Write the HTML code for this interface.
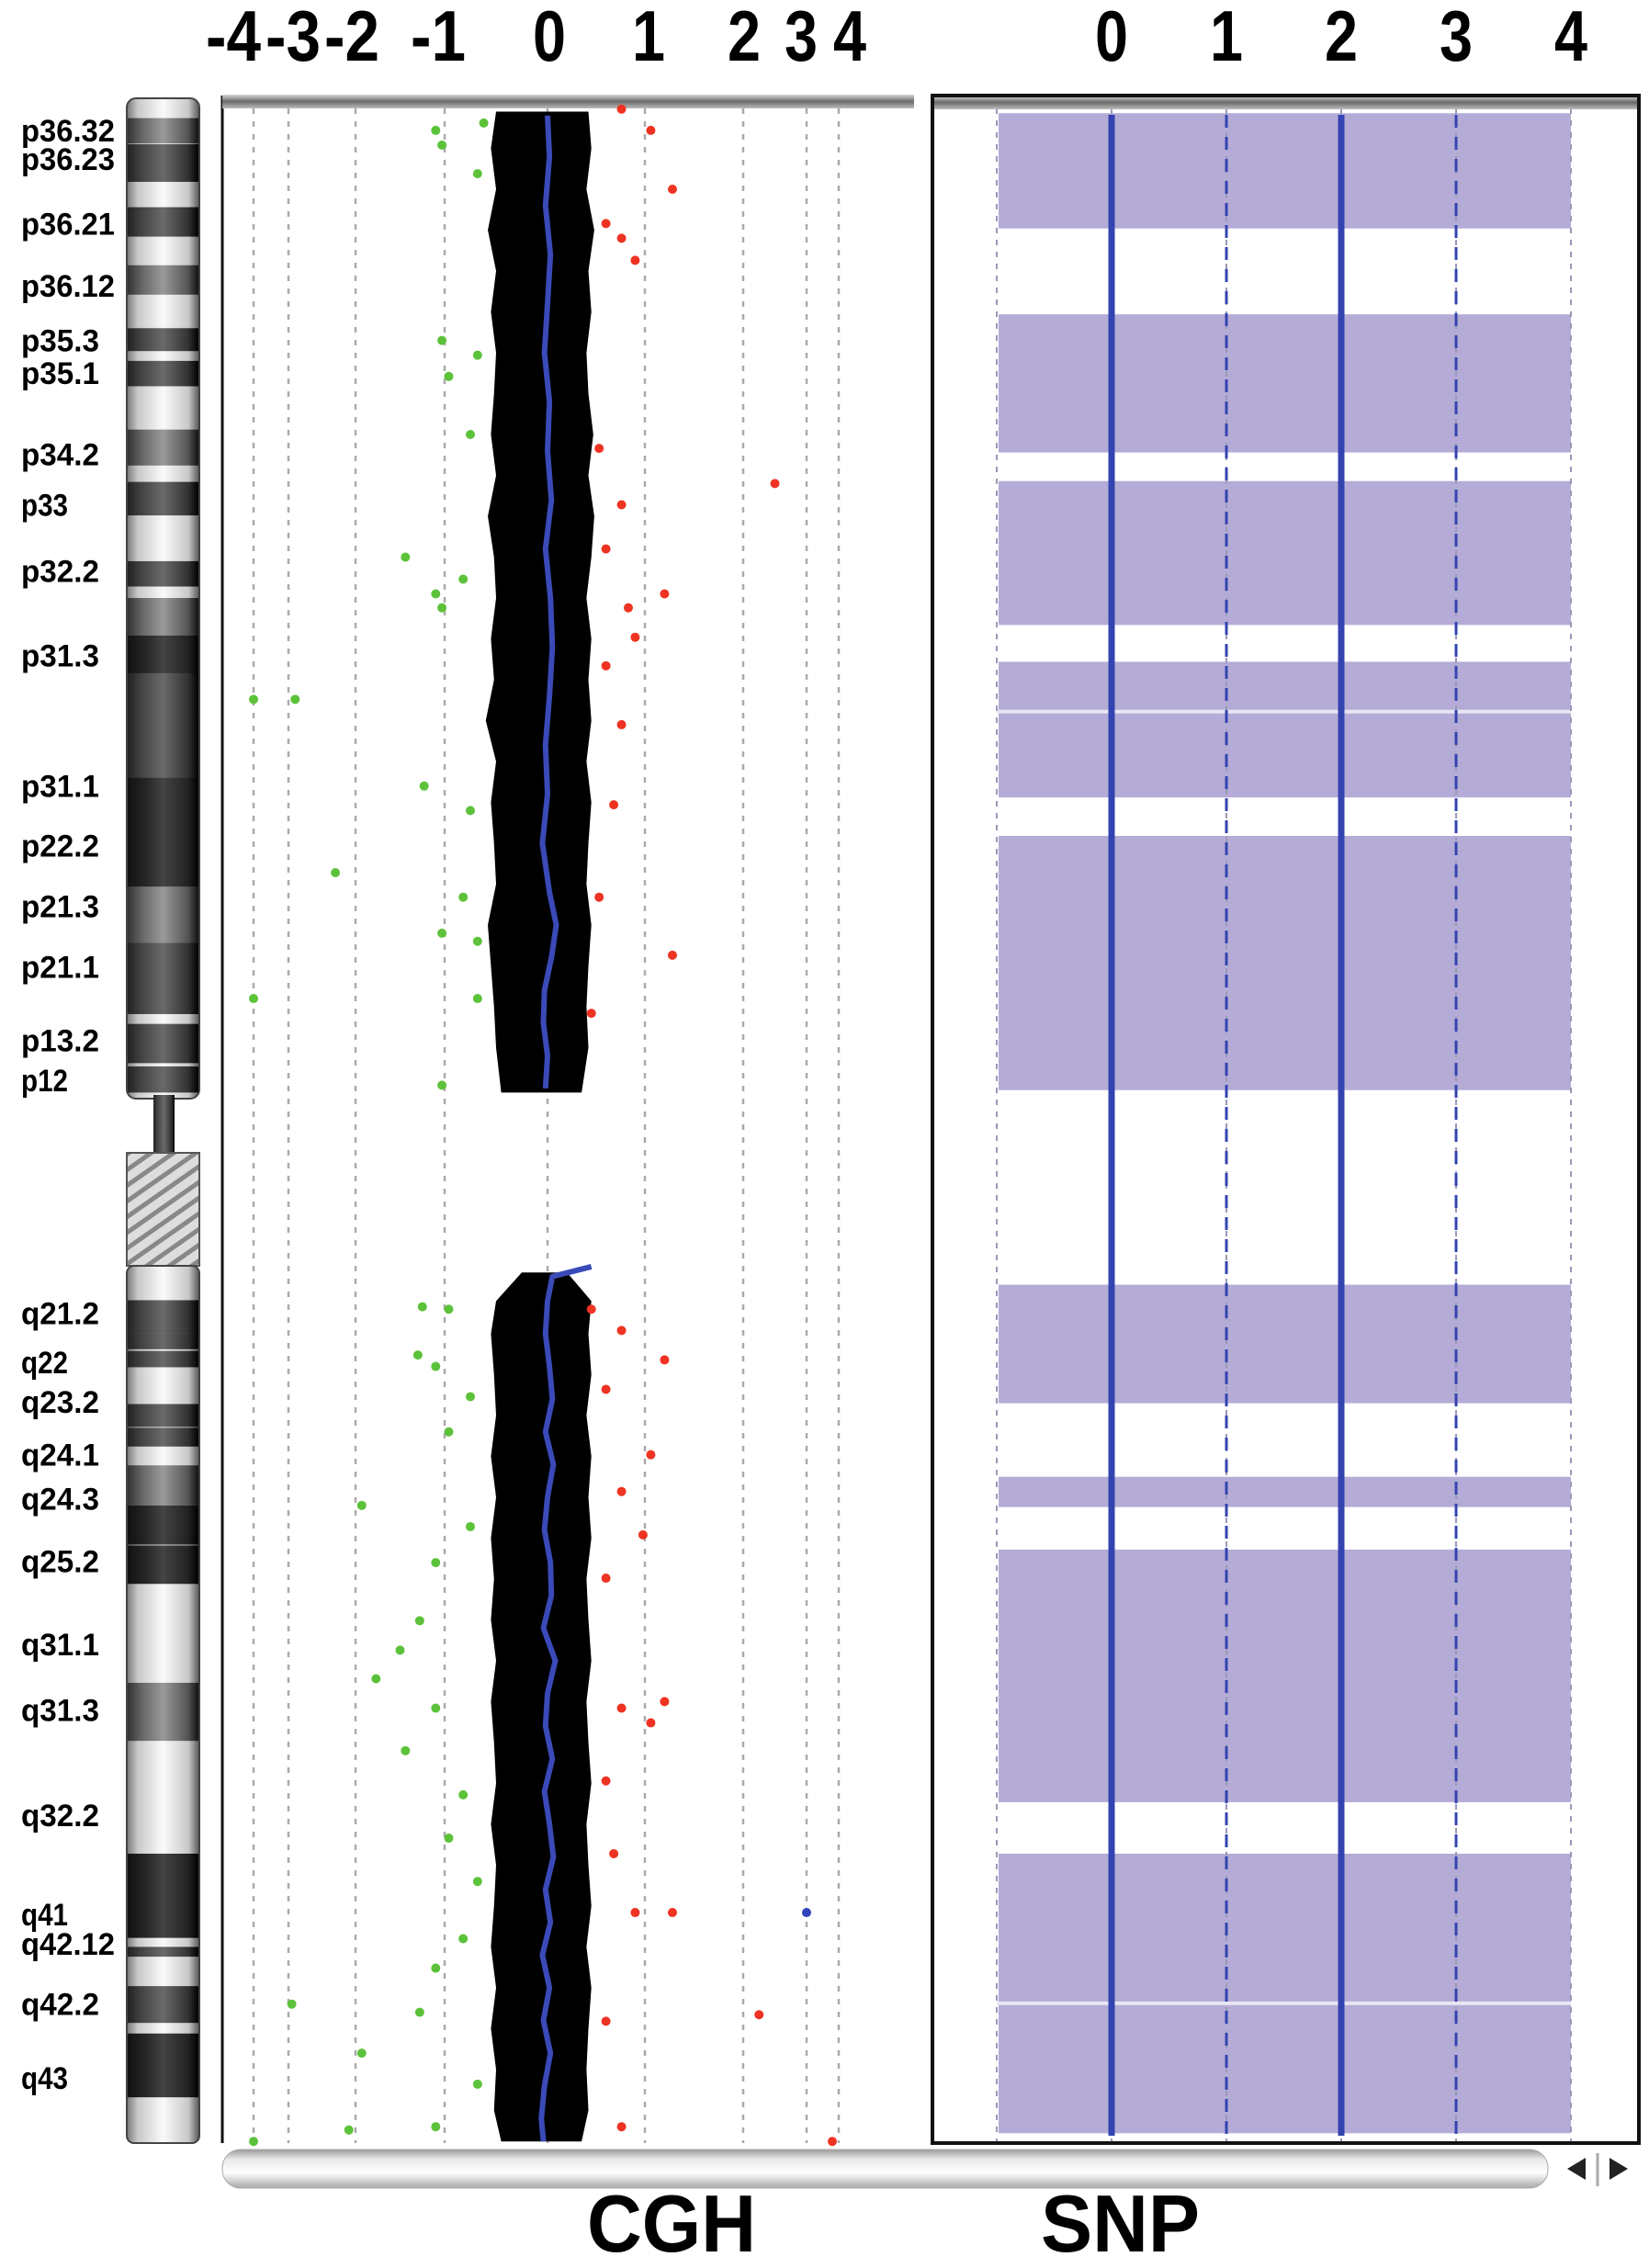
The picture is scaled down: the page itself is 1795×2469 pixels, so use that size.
<!DOCTYPE html>
<html><head><meta charset="utf-8"><style>
html,body{margin:0;padding:0;background:#fff;}
svg{display:block;}
text{font-family:"Liberation Sans Narrow","Liberation Sans",sans-serif;font-weight:bold;fill:#000;}
</style></head><body>
<svg id="chart" width="1795" height="2469" viewBox="0 0 1795 2469" xmlns="http://www.w3.org/2000/svg">
<defs>
<linearGradient id="barG" x1="0" y1="0" x2="0" y2="1"><stop offset="0" stop-color="#d8d8d8"/><stop offset="0.5" stop-color="#6a6a6a"/><stop offset="1" stop-color="#bdbdbd"/></linearGradient>
<linearGradient id="scrollG" x1="0" y1="0" x2="0" y2="1"><stop offset="0" stop-color="#9a9a9a"/><stop offset="0.25" stop-color="#e8e8e8"/><stop offset="0.6" stop-color="#ffffff"/><stop offset="1" stop-color="#a8a8a8"/></linearGradient>
<linearGradient id="cylW" x1="0" y1="0" x2="1" y2="0"><stop offset="0" stop-color="#777"/><stop offset="0.15" stop-color="#c8c8c8"/><stop offset="0.5" stop-color="#fafafa"/><stop offset="0.85" stop-color="#c8c8c8"/><stop offset="1" stop-color="#555"/></linearGradient>
<linearGradient id="cylG" x1="0" y1="0" x2="1" y2="0"><stop offset="0" stop-color="#333"/><stop offset="0.2" stop-color="#666"/><stop offset="0.5" stop-color="#9a9a9a"/><stop offset="0.85" stop-color="#555"/><stop offset="1" stop-color="#111"/></linearGradient>
<linearGradient id="cylD" x1="0" y1="0" x2="1" y2="0"><stop offset="0" stop-color="#222"/><stop offset="0.2" stop-color="#444"/><stop offset="0.5" stop-color="#6a6a6a"/><stop offset="0.85" stop-color="#333"/><stop offset="1" stop-color="#000"/></linearGradient>
<linearGradient id="cylB" x1="0" y1="0" x2="1" y2="0"><stop offset="0" stop-color="#111"/><stop offset="0.3" stop-color="#2a2a2a"/><stop offset="0.5" stop-color="#444"/><stop offset="0.85" stop-color="#222"/><stop offset="1" stop-color="#000"/></linearGradient>
<pattern id="hatch" width="14" height="14" patternUnits="userSpaceOnUse" patternTransform="rotate(-35)"><rect width="14" height="14" fill="#ddd"/><rect width="14" height="5" fill="#888"/></pattern>
</defs>
<g id="layer"></g>
</svg>
<script>
// ---------- data ----------
const cghTickVals = [-4,-3,-2,-1,0,1,2,3,4];
const cghTickLabels = ["-4","-3","-2","-1","0","1","2","3","4"];
const snpTickVals = [0,1,2,3,4];
const snpTickLabels = ["0","1","2","3","4"];
const bandLabels = ["p36.32","p36.23","p36.21","p36.12","p35.3","p35.1","p34.2","p33","p32.2","p31.3","p31.1","p22.2","p21.3","p21.1","p13.2","p12","q21.2","q22","q23.2","q24.1","q24.3","q25.2","q31.1","q31.3","q32.2","q41","q42.12","q42.2","q43"];
const bandLabelPos = [2.8,6.3,14.2,21.8,28.5,32.5,42.4,48.6,56.7,67,83,90.3,97.7,105.1,114.1,119,147.5,153.5,158.3,164.8,170.2,177.8,188,196,208.9,221,224.6,232,241];
const ideoStart = [1.3,4.5,12.2,19.3,27,31,39.4,45.8,55.5,60,64.6,69.2,73.2,82,95.3,102.2,112.1,117.3,145.9,149.9,152.1,158.6,161.5,166.1,171,175.9,192.7,213.6,225,229.8,235.6];
const ideoEnd = [4.4,9.1,15.8,22.9,29.8,34.1,43.8,49.9,58.6,67.5,82.3,86.2,99.6,107,108.2,110.9,116.9,120.5,149.9,151.9,154.1,161.4,163.8,171,175.8,180.6,199.8,223.9,226.2,234.3,243.4];
const ideoStain = ["g","d","d","g","d","d","g","d","d","g","b","d","d","b","g","d","d","d","d","d","d","d","d","g","b","b","g","b","d","d","b"];
const cloudPos = [0.5,5,10,15,20,25,30,35,40,45,50,55,60,65,70,75,80,85,90,95,100,105,110,115,120.5];
const cloudLo = [-0.5,-0.55,-0.5,-0.58,-0.5,-0.55,-0.5,-0.52,-0.55,-0.5,-0.58,-0.52,-0.5,-0.55,-0.52,-0.6,-0.5,-0.55,-0.52,-0.5,-0.58,-0.55,-0.52,-0.5,-0.45];
const cloudHi = [0.42,0.45,0.4,0.48,0.42,0.45,0.4,0.42,0.47,0.42,0.48,0.45,0.4,0.45,0.42,0.45,0.4,0.45,0.42,0.4,0.45,0.42,0.4,0.42,0.35];
const cloudPosQ = [142.5,146,150,155,160,165,170,175,180,185,190,195,200,205,210,215,220,225,230,235,240,245,248.8];
const cloudLoQ = [-0.25,-0.5,-0.55,-0.52,-0.5,-0.55,-0.5,-0.55,-0.52,-0.55,-0.5,-0.55,-0.52,-0.5,-0.55,-0.5,-0.52,-0.55,-0.5,-0.55,-0.5,-0.52,-0.45];
const cloudHiQ = [0.2,0.45,0.42,0.45,0.4,0.45,0.42,0.45,0.4,0.42,0.45,0.4,0.42,0.45,0.4,0.42,0.45,0.4,0.45,0.42,0.4,0.42,0.35];
const bluePosP = [1,6,12,18,24,30,36,42,48,54,60,66,72,78,84,90,96,100,104,108,112,116,120];
const blueValP = [0,0.02,-0.02,0.03,0,-0.03,0.02,0,0.04,-0.02,0.03,0.05,0.02,-0.02,0,-0.05,0.02,0.09,0.04,-0.03,-0.04,0,-0.02];
const bluePosQ = [141.8,143,146,150,154,158,162,166,170,174,178,182,186,190,194,198,202,206,210,214,218,222,226,230,234,238,242,246,248.8];
const blueValQ = [0.45,0.05,0,-0.02,0.02,0.05,-0.02,0.06,0,-0.03,0.03,0.04,-0.04,0.08,0,-0.02,0.05,-0.03,0.02,0.06,-0.02,0.03,-0.05,0.02,-0.04,0.03,-0.03,-0.06,-0.04];
const greenPos = [2.8,4.6,1.9,8.1,28.5,30.3,32.9,40,55,59.5,61.2,57.7,72.4,72.4,83,86,93.6,96.6,101,102,109,109,119.6,146.7,147,152.6,154,157.7,162,171,173.6,178,188.7,185.1,192.2,195.8,201,206.4,211.7,217,232,233,238,247.4,247,248.8,241.8,224,227.6];
const greenVal = [-1.1,-1.03,-0.62,-0.68,-1.03,-0.68,-0.96,-0.75,-1.44,-1.1,-1.03,-0.82,-4,-2.9,-1.23,-0.75,-2.3,-0.82,-1.03,-0.68,-4,-0.68,-1.03,-1.25,-0.96,-1.3,-1.1,-0.75,-0.96,-1.93,-0.75,-1.1,-1.5,-1.28,-1.77,-1.1,-1.44,-0.82,-0.96,-0.68,-2.95,-1.28,-1.93,-2.1,-1.1,-4,-0.68,-0.82,-1.1];
const redPos = [0.2,2.8,10,14.2,16,18.7,41.7,46,48.6,54,59.5,61.2,64.8,68.3,75.5,85.3,96.6,103.7,110.8,147,149.6,153.2,156.8,164.8,169.3,174.6,179.9,195,195.8,197.6,204.7,213.6,220.8,220.8,233.3,234.1,248.8,247];
const redVal = [0.76,1.06,1.28,0.6,0.76,0.9,0.53,2.5,0.76,0.6,1.2,0.83,0.9,0.6,0.76,0.68,0.53,1.28,0.45,0.45,0.76,1.2,0.6,1.06,0.76,0.98,0.6,1.2,0.76,1.06,0.6,0.68,0.9,1.28,2.25,0.6,3.8,0.76];
const blueDotPos = [220.8];
const blueDotVal = [3];
const snpStart = [0.7,25.3,45.7,67.8,89.1,144,167.5,176.4,213.6];
const snpEnd = [14.8,42.2,63.3,84.4,120.2,158.5,171.2,207.3,247.8];
const snpGapLines = [73.9,231.9];
const snpCopyLines = [0,1,2,3];

// ---------- layout / axes ----------
const NS = "http://www.w3.org/2000/svg";
const layer = document.getElementById("layer");
const Y0 = 117, Y1 = 2333, MB = 249;
function yPos(mb){ return Y0 + mb/MB*(Y1-Y0); }
const cghTickX = [276,314,387,484,596,702,809,878,913];
function xCgh(v){
  const t=cghTickVals;
  if(v<=t[0]) return cghTickX[0]+(v-t[0])*(cghTickX[1]-cghTickX[0]);
  for(let i=0;i<t.length-1;i++){ if(v<=t[i+1]){ const f=(v-t[i])/(t[i+1]-t[i]); return cghTickX[i]+f*(cghTickX[i+1]-cghTickX[i]); } }
  return cghTickX[8];
}
function xSnp(v){ return 1210 + v*125; }
function mk(tag, attrs, parent){ const e=document.createElementNS(NS,tag); for(const k in attrs) e.setAttribute(k,attrs[k]); (parent||layer).appendChild(e); return e; }

// ideogram
const ideo = mk("g",{});


const pTop = 107, pBot = 1196;
mk("rect",{x:138,y:pTop,width:79,height:pBot-pTop,rx:10,fill:"url(#cylW)",stroke:"#444","stroke-width":2},ideo);
mk("rect",{x:167,y:pBot-4,width:23,height:64,fill:"url(#cylD)"},ideo);
mk("rect",{x:138,y:1255,width:79,height:123,fill:"url(#hatch)",stroke:"#555","stroke-width":2},ideo);
mk("rect",{x:138,y:1378,width:79,height:2333-1378,rx:8,fill:"url(#cylW)",stroke:"#444","stroke-width":2},ideo);
const stainFill={g:"url(#cylG)",d:"url(#cylD)",b:"url(#cylB)"};
for(let i=0;i<ideoStart.length;i++){
  const r=mk("rect",{x:139,y:yPos(ideoStart[i]),width:77,height:yPos(ideoEnd[i])-yPos(ideoStart[i]),fill:stainFill[ideoStain[i]]},ideo);
  
  
}

// band labels
for(let i=0;i<bandLabels.length;i++){
  const t=mk("text",{x:23,y:yPos(bandLabelPos[i])+12,"font-size":34,textLength:bandLabels[i].length*17,lengthAdjust:"spacingAndGlyphs"});
  t.textContent=bandLabels[i];
  
  
}

// CGH panel
const cgh = mk("g",{});


mk("line",{x1:242,y1:104,x2:242,y2:2333,stroke:"#111","stroke-width":3},cgh);
mk("rect",{x:242,y:103,width:753,height:15,fill:"url(#barG)"},cgh);
const cghLabelCx=[254,319,383,477,598,706,810,872,925];
cghTickVals.forEach((v,i)=>{
  const l=mk("line",{x1:xCgh(v),y1:118,x2:xCgh(v),y2:2333,stroke:"#aaa","stroke-width":2.5,"stroke-dasharray":"6 8"},cgh);
  
  
  const w = cghTickLabels[i].length>1 ? 60 : 36;
  const t=mk("text",{x:cghLabelCx[i]-w/2,y:66,"font-size":78,textLength:w,lengthAdjust:"spacingAndGlyphs"});
  t.textContent=cghTickLabels[i];
  
  
});
function cloud(pos,lo,hi){
  let d="";
  pos.forEach((p,i)=>{ d+=(i?"L":"M")+xCgh(lo[i])+","+yPos(p); });
  for(let i=pos.length-1;i>=0;i--) d+="L"+xCgh(hi[i])+","+yPos(pos[i]);
  const e=mk("path",{d:d+"Z",fill:"#000"},cgh);
  
  
}
cloud(cloudPos,cloudLo,cloudHi);
cloud(cloudPosQ,cloudLoQ,cloudHiQ);
function dots(pos,val,col,name){
  pos.forEach((p,i)=>{
    const c=mk("circle",{cx:xCgh(val[i]),cy:yPos(p),r:5,fill:col},cgh);
    
    
  });
}
dots(greenPos,greenVal,"#5cc23a","loss-outlier");
dots(redPos,redVal,"#ee3322","gain-outlier");
dots(blueDotPos,blueDotVal,"#3344bb","blue-outlier");
function bline(pos,val){
  const pts=pos.map((p,i)=>xCgh(val[i])+","+yPos(p)).join(" ");
  const e=mk("polyline",{points:pts,fill:"none",stroke:"#3a4ab8","stroke-width":6,"stroke-linejoin":"round"},cgh);
  
  
}
bline(bluePosP,blueValP);
bline(bluePosQ,blueValQ);

// SNP panel
const snp = mk("g",{});


for(let i=0;i<snpStart.length;i++){
  const r=mk("rect",{x:xSnp(-1)+2,y:yPos(snpStart[i]),width:xSnp(4)-xSnp(-1)-2,height:yPos(snpEnd[i])-yPos(snpStart[i]),fill:"#b4acd6"},snp);
  
  
}
snpGapLines.forEach(p=>{
  const l=mk("rect",{x:xSnp(-1),y:yPos(p)-2,width:xSnp(4)-xSnp(-1),height:4,fill:"#e8e6f2"},snp);
  
  
});
[-1,0,1,2,3,4].forEach(v=>{
  const l=mk("line",{x1:xSnp(v),y1:118,x2:xSnp(v),y2:2333,stroke:"#9a98b8","stroke-width":2,"stroke-dasharray":"6 7"},snp);
  
  
});
snpCopyLines.forEach(v=>{
  const thick = v%2===0;
  const l=mk("line",{x1:xSnp(v),y1:125,x2:xSnp(v),y2:2325,stroke:"#3344b0","stroke-width":thick?7:3,"stroke-dasharray":thick?"none":"14 10"},snp);
  
  
});
mk("rect",{x:1014,y:104,width:770,height:15,fill:"url(#barG)"},snp);
mk("rect",{x:1015,y:104,width:769,height:2229,fill:"none",stroke:"#111","stroke-width":4},snp);
snpTickVals.forEach((v,i)=>{
  const t=mk("text",{x:xSnp(v)-18,y:66,"font-size":78,textLength:36,lengthAdjust:"spacingAndGlyphs"});
  t.textContent=snpTickLabels[i];
  
  
});

// scrollbar
const sb=mk("rect",{x:242,y:2340,width:1443,height:42,rx:20,fill:"url(#scrollG)",stroke:"#aaa","stroke-width":1});


const al=mk("path",{d:"M1706,2361 L1726,2349 L1726,2373 Z",fill:"#222"});


const ar=mk("path",{d:"M1772,2361 L1752,2349 L1752,2373 Z",fill:"#222"});


mk("line",{x1:1739,y1:2344,x2:1739,y2:2380,stroke:"#aaa","stroke-width":3});

// titles
const t1=mk("text",{x:639,y:2451,"font-size":88,textLength:184,lengthAdjust:"spacingAndGlyphs"}); t1.textContent="CGH";


const t2=mk("text",{x:1133,y:2451,"font-size":88,textLength:173,lengthAdjust:"spacingAndGlyphs"}); t2.textContent="SNP";


</script>
</body></html>
